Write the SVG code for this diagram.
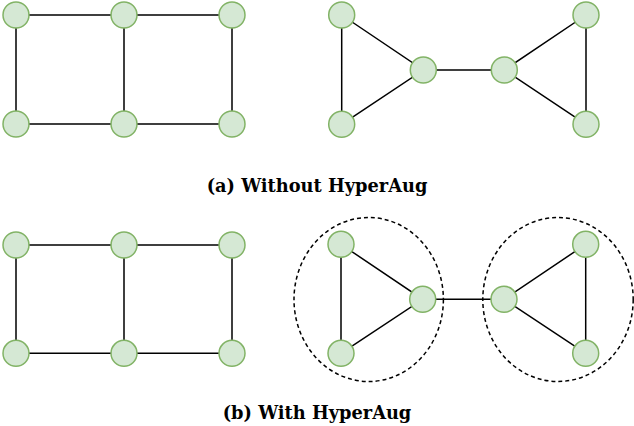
<svg xmlns="http://www.w3.org/2000/svg" width="634" height="426" viewBox="0 0 634 426">
<style>
.n{fill:#d5e8d4;stroke:#82b366;stroke-width:1.5}
.e{stroke:#000;stroke-width:1.5;fill:none}
.h{fill:none;stroke:#000;stroke-width:1.5;stroke-dasharray:4 3}
.t{font-family:"DejaVu Serif",serif;font-weight:bold;font-size:17.8px;fill:#000}
</style>
<rect width="634" height="426" fill="#fff"/>
<g id="connectors">
<path class="e" d="M16 15H124H232M16 124H124H232M16 15V124M124 15V124M232 15V124"/>
<path class="e" d="M341.7 15V124.3M341.7 15L423.3 70L341.7 124.3M423.3 70H504.3M586 15L504.3 70L586 124.3M586 15V124.3"/>
<path class="e" d="M16 245H124H232M16 353.3H124H232M16 245V353.3M124 245V353.3M232 245V353.3"/>
<path class="e" d="M341 244.3V353.3M341 244.3L422.7 299.3L341 353.3M422.7 299.3H504M585.7 244.3L504 299.3L585.7 353.3M585.7 244.3V353.3"/>
</g>
<g id="hyperedge-left"><ellipse class="h" cx="368.7" cy="299.5" rx="74.7" ry="82"/></g>
<g id="hyperedge-right"><ellipse class="h" cx="558" cy="299.5" rx="75.2" ry="82"/></g>
<g id="a1"><circle class="n" cx="16" cy="15" r="13"/></g>
<g id="a2"><circle class="n" cx="124" cy="15" r="13"/></g>
<g id="a3"><circle class="n" cx="232" cy="15" r="13"/></g>
<g id="a4"><circle class="n" cx="16" cy="124" r="13"/></g>
<g id="a5"><circle class="n" cx="124" cy="124" r="13"/></g>
<g id="a6"><circle class="n" cx="232" cy="124" r="13"/></g>
<g id="a7"><circle class="n" cx="341.7" cy="15" r="13"/></g>
<g id="a8"><circle class="n" cx="423.3" cy="70" r="13"/></g>
<g id="a9"><circle class="n" cx="341.7" cy="124.3" r="13"/></g>
<g id="a10"><circle class="n" cx="504.3" cy="70" r="13"/></g>
<g id="a11"><circle class="n" cx="586" cy="15" r="13"/></g>
<g id="a12"><circle class="n" cx="586" cy="124.3" r="13"/></g>
<g id="b1"><circle class="n" cx="16" cy="245" r="13"/></g>
<g id="b2"><circle class="n" cx="124" cy="245" r="13"/></g>
<g id="b3"><circle class="n" cx="232" cy="245" r="13"/></g>
<g id="b4"><circle class="n" cx="16" cy="353.3" r="13"/></g>
<g id="b5"><circle class="n" cx="124" cy="353.3" r="13"/></g>
<g id="b6"><circle class="n" cx="232" cy="353.3" r="13"/></g>
<g id="b7"><circle class="n" cx="341" cy="244.3" r="13"/></g>
<g id="b8"><circle class="n" cx="422.7" cy="299.3" r="13"/></g>
<g id="b9"><circle class="n" cx="341" cy="353.3" r="13"/></g>
<g id="b10"><circle class="n" cx="504" cy="299.3" r="13"/></g>
<g id="b11"><circle class="n" cx="585.7" cy="244.3" r="13"/></g>
<g id="b12"><circle class="n" cx="585.7" cy="353.3" r="13"/></g>
<text class="t" x="317" y="192" text-anchor="middle">(a) Without HyperAug</text>
<text class="t" x="317" y="419" text-anchor="middle">(b) With HyperAug</text>
</svg>
